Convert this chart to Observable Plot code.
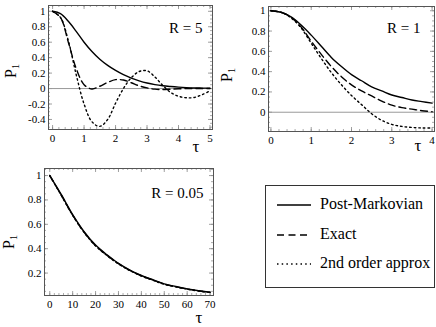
<!DOCTYPE html>
<html><head><meta charset="utf-8">
<script src="https://cdn.jsdelivr.net/npm/d3@7"></script>
<script src="https://cdn.jsdelivr.net/npm/@observablehq/plot@0.6"></script>
<style>
body{margin:0;background:#fff;}
#root{position:relative;width:436px;height:327px;font-family:"Liberation Serif","DejaVu Serif",serif;overflow:hidden;}
.panel{position:absolute;}
#legend{position:absolute;left:265px;top:185px;width:170px;height:103px;border:1px solid #333;box-sizing:border-box;}
.lrow{position:absolute;left:0;height:20px;}
.lrow svg{position:absolute;left:11px;top:0;}
.lrow span{position:absolute;left:54px;top:0;font-size:16px;line-height:20px;white-space:nowrap;color:#000;}
</style></head>
<body><div id="root"></div>
<script>
// ---------- data ----------
const seriesNames = ["Post-Markovian", "Exact", "2nd order approx"];

// R = 5
const tauR5 = [0,0.25,0.5,0.75,1,1.25,1.5,1.75,2,2.25,2.5,2.75,3,3.25,3.5,3.75,4,4.25,4.5,4.75,5];
const postR5 = [1,0.97,0.87,0.74,0.6,0.48,0.38,0.3,0.235,0.18,0.135,0.1,0.072,0.051,0.036,0.026,0.018,0.012,0.008,0.006,0.004];
const exactR5 = [1,0.92,0.6,0.26,0.05,-0.005,0.03,0.08,0.115,0.11,0.075,0.035,0.008,-0.008,-0.012,-0.008,-0.003,0,0.001,0.001,0];
const secondR5 = [1,0.92,0.62,0.18,-0.2,-0.43,-0.49,-0.4,-0.19,0.0,0.14,0.22,0.23,0.15,0.04,-0.05,-0.1,-0.12,-0.115,-0.08,-0.03];

// R = 1
const tauR1 = [0,0.25,0.5,0.75,1,1.25,1.5,1.75,2,2.25,2.5,2.75,3,3.25,3.5,3.75,4];
const postR1 = [1,0.985,0.94,0.86,0.76,0.65,0.54,0.45,0.37,0.31,0.25,0.21,0.17,0.145,0.12,0.105,0.09];
const exactR1 = [1,0.985,0.935,0.84,0.7,0.57,0.45,0.35,0.27,0.21,0.16,0.11,0.07,0.045,0.03,0.015,0.005];
const secondR1 = [1,0.985,0.93,0.83,0.68,0.53,0.39,0.27,0.165,0.075,-0.015,-0.08,-0.12,-0.14,-0.15,-0.155,-0.155];

// R = 0.05
const tauR005 = [0,5,10,15,20,25,30,35,40,45,50,55,60,65,70];
const postR005 = [1,0.845,0.68,0.54,0.43,0.35,0.28,0.225,0.18,0.145,0.112,0.09,0.07,0.055,0.043];
const exactR005 = [1,0.84,0.675,0.535,0.425,0.345,0.277,0.222,0.178,0.143,0.11,0.088,0.069,0.054,0.042];
const secondR005 = [1,0.838,0.673,0.533,0.423,0.343,0.275,0.22,0.176,0.141,0.108,0.087,0.068,0.053,0.041];

const panelLabels = ["R = 5", "R = 1", "R = 0.05"];
const xTicksR5 = [0,1,2,3,4,5];
const xTicksR1 = [0,1,2,3,4];
const xTicksR005 = [0,10,20,30,40,50,60,70];
const yTicksR5 = [1,0.8,0.6,0.4,0.2,0,-0.2,-0.4];
const yTicksR1 = [1,0.8,0.6,0.4,0.2,0];
const yTicksR005 = [1,0.8,0.6,0.4,0.2];

// ---------- drawing ----------
const FONT = '"Liberation Serif","DejaVu Serif",serif';
const root = document.getElementById("root");
const dashes = [null, "7,4", "1.6,3"];

function panel(cfg) {
  const {tau, series, xDomain, yDomain, xTicks, yTicks, label, left, top, width, height, m, zero, minorX, minorY, labelDx, labelDy, pPos, tauPos} = cfg;
  const fh = height - m.top - m.bottom;
  const fw = width - m.left - m.right;
  const rows = series.map(vals => tau.map((t, i) => ({tau: t, value: vals[i]})));
  const minorXs = d3.range(xTicks[0], xTicks[xTicks.length-1] + 1e-9, minorX).filter(v => v >= xDomain[0] && v <= xDomain[1]);
  const minorYs = d3.range(yDomain[0] - (yDomain[0] % minorY), yDomain[1], minorY).filter(v => v >= yDomain[0] && v <= yDomain[1]);
  const tickCol = "#888";
  const marks = [
    Plot.tickX(minorXs, {x: d => d, insetTop: fh - 2, stroke: tickCol, strokeWidth: 0.7}),
    Plot.tickX(minorXs, {x: d => d, insetBottom: fh - 2, stroke: tickCol, strokeWidth: 0.7}),
    Plot.tickY(minorYs, {y: d => d, insetRight: fw - 2, stroke: tickCol, strokeWidth: 0.7}),
    Plot.tickY(minorYs, {y: d => d, insetLeft: fw - 2, stroke: tickCol, strokeWidth: 0.7}),
    Plot.tickX(xTicks, {x: d => d, insetTop: fh - 4, stroke: tickCol, strokeWidth: 0.8}),
    Plot.tickX(xTicks, {x: d => d, insetBottom: fh - 4, stroke: tickCol, strokeWidth: 0.8}),
    Plot.tickY(yTicks, {y: d => d, insetRight: fw - 4, stroke: tickCol, strokeWidth: 0.8}),
    Plot.tickY(yTicks, {y: d => d, insetLeft: fw - 4, stroke: tickCol, strokeWidth: 0.8}),
  ];
  if (zero) marks.push(Plot.ruleY([0], {stroke: "#999", strokeWidth: 1}));
  rows.forEach((r, i) => {
    marks.push(Plot.line(r, {x: "tau", y: "value", stroke: "#000", strokeWidth: 1.4, curve: "catmull-rom", strokeDasharray: dashes[i] || undefined}));
  });
  marks.push(Plot.frame({stroke: "#555", strokeWidth: 1}));
  marks.push(Plot.text([label], {frameAnchor: "top-right", text: d => d, dx: labelDx, dy: labelDy, textAnchor: "end", fontSize: 15, fill: "#000", fontFamily: FONT}));
  const svg = Plot.plot({
    width, height,
    marginLeft: m.left, marginRight: m.right, marginTop: m.top, marginBottom: m.bottom,
    style: {fontFamily: FONT, fontSize: "11px", background: "transparent", color: "#000", overflow: "visible"},
    x: {domain: xDomain, ticks: xTicks, tickSize: 0, tickPadding: 5, label: null, tickFormat: d => String(d)},
    y: {domain: yDomain, ticks: yTicks, tickSize: 0, tickPadding: 3, label: null, tickFormat: d => String(d)},
    marks
  });
  svg.classList.add("panel");
  svg.style.left = left + "px";
  svg.style.top = top + "px";
  const s = d3.select(svg);
  const p = s.append("text")
    .attr("transform", `translate(${pPos[0]},${pPos[1]}) rotate(-90)`)
    .attr("text-anchor", "middle")
    .attr("font-size", 16);
  p.append("tspan").text("P");
  p.append("tspan").attr("font-size", 10).attr("dy", 3).text("1");
  s.append("text")
    .attr("x", tauPos[0]).attr("y", tauPos[1])
    .attr("text-anchor", "middle")
    .attr("font-size", 17)
    .text("τ");
  root.appendChild(svg);
}

panel({tau: tauR5, series: [postR5, exactR5, secondR5], xDomain: [-0.13, 5.08], yDomain: [-0.53, 1.075],
  xTicks: xTicksR5, yTicks: yTicksR5, label: panelLabels[0], left: 0, top: 0, width: 218, height: 160,
  m: {left: 48, right: 6, top: 5, bottom: 31}, zero: true, minorX: 0.2, minorY: 0.05, labelDx: -10, labelDy: 17,
  pPos: [16, 71], tauPos: [196, 152]});

panel({tau: tauR1, series: [postR1, exactR1, secondR1], xDomain: [-0.06, 4.06], yDomain: [-0.19, 1.042],
  xTicks: xTicksR1, yTicks: yTicksR1, label: panelLabels[1], left: 218, top: 0, width: 218, height: 160,
  m: {left: 50, right: 2, top: 6, bottom: 29}, zero: true, minorX: 0.2, minorY: 0.05, labelDx: -14, labelDy: 16,
  pPos: [14, 75], tauPos: [200, 151]});

panel({tau: tauR005, series: [postR005, exactR005, secondR005], xDomain: [-2.3, 71.5], yDomain: [0.016, 1.058],
  xTicks: xTicksR005, yTicks: yTicksR005, label: panelLabels[2], left: 0, top: 160, width: 218, height: 167,
  m: {left: 44, right: 5, top: 8, bottom: 32}, zero: false, minorX: 2, minorY: 0.05, labelDx: -10, labelDy: 19,
  pPos: [14, 82], tauPos: [199, 163]});

// legend
const leg = document.createElement("div");
leg.id = "legend";
const rowTops = [8, 38, 67];
seriesNames.forEach((name, i) => {
  const row = document.createElement("div");
  row.className = "lrow";
  row.style.top = rowTops[i] + "px";
  const svgL = d3.create("svg").attr("width", 36).attr("height", 20);
  svgL.append("line").attr("x1", 0).attr("x2", 34).attr("y1", 11).attr("y2", 11)
    .attr("stroke", "#000").attr("stroke-width", 1.3)
    .attr("stroke-dasharray", dashes[i] ? (i === 1 ? "7,4.5" : "1.5,3.2") : null);
  row.appendChild(svgL.node());
  const sp = document.createElement("span");
  sp.textContent = name;
  row.appendChild(sp);
  leg.appendChild(row);
});
root.appendChild(leg);
</script>
</body></html>
